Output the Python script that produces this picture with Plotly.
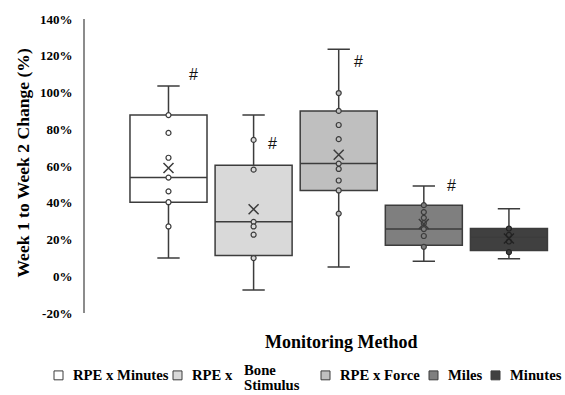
import plotly.graph_objects as go

# ---- data (percent change, week 1 to week 2) ----
methods = ["RPE x Minutes", "RPE x Bone Stimulus", "RPE x Force", "Miles", "Minutes"]
q1 = [40.3, 11.3, 46.7, 16.9, 14.0]
median = [53.7, 29.6, 61.3, 25.7, 21.2]
q3 = [87.7, 60.4, 90.0, 38.7, 26.0]
lower_whisker = [9.9, -7.5, 5.0, 8.2, 9.5]
upper_whisker = [103.5, 87.7, 123.6, 49.1, 36.8]
means = [58.9, 36.5, 66.1, 28.4, 20.5]
points_rpe_minutes = [87.7, 78.0, 64.5, 53.7, 46.2, 40.3, 27.1]
points_rpe_bone = [74.2, 58.0, 29.6, 27.1, 22.6, 9.9]
points_rpe_force = [99.7, 90.0, 82.3, 74.6, 61.3, 58.4, 52.1, 46.7, 34.1]
points_miles = [38.7, 34.9, 31.8, 28.9, 25.7, 21.9, 16.0]
points_minutes = [26.0, 22.5, 18.9, 13.1]
points = [points_rpe_minutes, points_rpe_bone, points_rpe_force, points_miles, points_minutes]
significant = [True, True, True, True, False]
y_ticks = [-20, 0, 20, 40, 60, 80, 100, 120, 140]
y_tick_labels = [f"{v}%" for v in y_ticks]

# ---- styling ----
fills = ["#ffffff", "#d9d9d9", "#bfbfbf", "#7f7f7f", "#404040"]
marker_edges = ["#3c3c3c", "#3c3c3c", "#3c3c3c", "#3c3c3c", "#222222"]
edge = "#3c3c3c"
serif = "Liberation Serif, Times New Roman, serif"

W, H = 565, 395
L, R, T, B = 85, 13, 16, 82
plot_w = W - L - R
plot_h = H - T - B


def px(x):
    return (x - L) / plot_w


def py(y):
    return (H - B - y) / plot_h


fig = go.Figure()

for i, name in enumerate(methods):
    fig.add_trace(go.Box(
        x=[i], q1=[q1[i]], median=[median[i]], q3=[q3[i]],
        lowerfence=[lower_whisker[i]], upperfence=[upper_whisker[i]],
        width=0.905, whiskerwidth=0.29,
        fillcolor=fills[i], line=dict(color=edge, width=1.5),
        boxpoints=False, name=name, showlegend=False,
    ))
    fig.add_trace(go.Scatter(
        x=[i] * len(points[i]), y=points[i], mode="markers",
        marker=dict(symbol="circle", size=5, color=fills[i],
                    line=dict(color=marker_edges[i], width=1.2)),
        showlegend=False, hoverinfo="y",
    ))
    fig.add_trace(go.Scatter(
        x=[i], y=[means[i]], mode="markers",
        marker=dict(symbol="x-thin", size=10,
                    line=dict(color=marker_edges[i], width=1.5)),
        showlegend=False, hoverinfo="y",
    ))

# significance markers placed beside the boxes
hash_offsets = [(0.29, 109.7), (0.22, 72.5), (0.23, 117.0), (0.33, 49.3)]
annotations = []
for i, flag in enumerate(significant):
    if flag:
        dx, yy = hash_offsets[i]
        annotations.append(dict(x=i + dx, y=yy, xref="x", yref="y", text="#",
                                showarrow=False,
                                font=dict(family="Liberation Sans", size=16, color="#111111")))

# axis titles
annotations.append(dict(x=px(23), y=py(161), xref="paper", yref="paper",
                        xanchor="center", yanchor="middle",
                        text="Week 1 to Week 2 Change (%)", textangle=-90,
                        showarrow=False,
                        font=dict(family=serif, size=17.6, color="black", weight="bold")))
annotations.append(dict(x=px(341), y=py(342), xref="paper", yref="paper",
                        xanchor="center", yanchor="middle",
                        text="Monitoring Method", showarrow=False,
                        font=dict(family=serif, size=18, color="black", weight="bold")))

# legend row drawn below the plot
legend_font = dict(family=serif, size=14.7, color="black", weight="bold")
legend_text_x = [71, 190, 338, 446, 508]
legend_y = 376
shapes = []
for i, name in enumerate(methods):
    tx = legend_text_x[i]
    shapes.append(dict(type="rect", xref="paper", yref="paper",
                       x0=px(tx - 17), x1=px(tx - 8),
                       y0=py(legend_y + 4.5), y1=py(legend_y - 4.5),
                       fillcolor=fills[i], line=dict(color=edge, width=1)))
    if name == "RPE x Bone Stimulus":
        head, word1, word2 = name.split(" ")[0:2], name.split(" ")[2], name.split(" ")[3]
        annotations.append(dict(x=px(tx), y=py(legend_y), xref="paper", yref="paper",
                                text=" ".join(head), xanchor="left", yanchor="middle",
                                showarrow=False, font=legend_font))
        annotations.append(dict(x=px(242), y=py(371), xref="paper", yref="paper",
                                text=word1, xanchor="left", yanchor="middle",
                                showarrow=False, font=legend_font))
        annotations.append(dict(x=px(242), y=py(386), xref="paper", yref="paper",
                                text=word2, xanchor="left", yanchor="middle",
                                showarrow=False, font=legend_font))
    else:
        annotations.append(dict(x=px(tx), y=py(legend_y), xref="paper", yref="paper",
                                text=name, xanchor="left", yanchor="middle",
                                showarrow=False, font=legend_font))

fig.update_layout(
    width=W, height=H,
    margin=dict(l=L, r=R, t=T, b=B),
    paper_bgcolor="white", plot_bgcolor="white",
    showlegend=False,
    annotations=annotations,
    shapes=shapes,
    xaxis=dict(range=[-0.981, 4.506], visible=False, fixedrange=True),
    yaxis=dict(range=[-20, 140], tickvals=y_ticks, ticktext=y_tick_labels,
               showgrid=False, zeroline=False,
               showline=True, linecolor="#8c8c8c", linewidth=2,
               ticks="outside", ticklen=8, tickcolor="rgba(0,0,0,0)",
               tickfont=dict(family=serif, size=13, color="black", weight="bold")),
)

fig.write_html("out.html")
